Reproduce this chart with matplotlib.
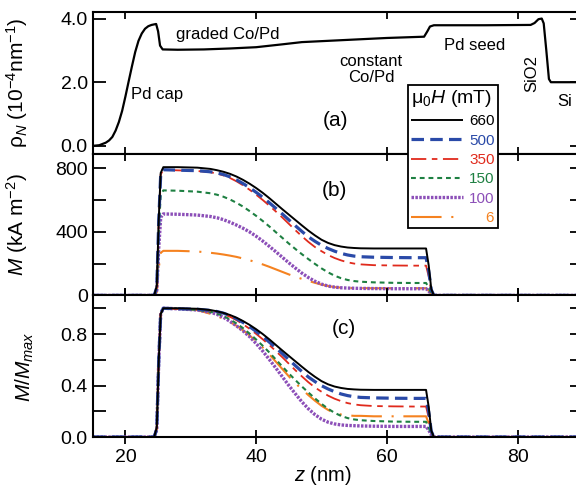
import numpy as np
import matplotlib.pyplot as plt
from matplotlib.lines import Line2D

plt.rcParams['font.family'] = ['Liberation Sans', 'DejaVu Sans']
plt.rcParams['mathtext.fontset'] = 'custom'
plt.rcParams['mathtext.rm'] = 'Liberation Sans'
plt.rcParams['mathtext.it'] = 'Liberation Sans:italic'
plt.rcParams['mathtext.bf'] = 'Liberation Sans:bold'
plt.rcParams['lines.scale_dashes'] = False

# (a) nuclear SLD profile
z_rho = [15, 16, 17, 17.5, 18, 18.5, 19, 19.5, 20, 20.5, 21, 21.5, 22, 22.5, 23, 23.5, 24, 24.7, 25.0, 25.3,
         25.7, 28, 32, 36, 40, 44, 47, 52, 56, 60, 65.7, 66.2, 66.6, 67.2, 75, 82.0, 82.6, 83.2, 83.7, 84.0,
         84.4, 84.8, 85.1, 90]
rho = [0.0, 0.02, 0.1, 0.17, 0.28, 0.48, 0.75, 1.1, 1.55, 2.03, 2.5, 2.95, 3.3, 3.53, 3.68, 3.76, 3.8, 3.83, 3.6, 3.15,
       3.03, 3.02, 3.03, 3.06, 3.1, 3.19, 3.26, 3.31, 3.35, 3.39, 3.43, 3.6, 3.75, 3.79, 3.79, 3.8, 3.86, 3.98, 4.0, 3.85,
       3.0, 2.1, 2.0, 2.0]

# (b) magnetization profiles, kA/m^2
z = [15, 24.4, 24.8, 25.1, 25.4, 25.8, 28, 31, 33, 34, 35, 36, 37, 38, 39, 40, 41, 42, 43, 44, 45, 46,
     47, 48, 49, 50, 51, 52, 53, 54, 55, 56, 58, 61, 64, 66.0, 66.4, 66.8, 67.2, 90]
fields = ['660', '500', '350', '150', '100', '\u2007\u20076']
m660 = [0, 0, 60, 480, 770, 806, 806, 803, 795, 787, 777, 764, 747, 726, 702, 675, 645, 612, 577, 542, 508, 474,
        440, 407, 377, 350, 330, 316, 307, 301, 298, 296, 295, 295, 295, 295, 190, 40, 0, 0]
m500 = [0, 0, 50, 470, 760, 790, 787, 784, 777, 770, 760, 745, 726, 703, 677, 648, 617, 583, 548, 512, 475, 438,
        402, 368, 340, 315, 295, 278, 264, 254, 247, 243, 240, 238, 237, 237, 155, 35, 0, 0]
m350 = [0, 0, 50, 470, 760, 790, 786, 782, 774, 766, 754, 738, 717, 692, 664, 633, 600, 565, 528, 490, 450, 410,
        372, 336, 304, 278, 254, 235, 220, 208, 200, 195, 190, 188, 187, 187, 120, 25, 0, 0]
m150 = [0, 0, 40, 400, 630, 660, 658, 652, 642, 633, 620, 603, 582, 558, 530, 500, 468, 434, 398, 362, 326, 292,
        259, 228, 198, 170, 145, 124, 108, 97, 90, 86, 82, 79, 78, 78, 50, 12, 0, 0]
m100 = [0, 0, 30, 300, 490, 512, 510, 505, 496, 488, 476, 460, 442, 422, 399, 372, 342, 309, 275, 240, 205, 172,
        140, 112, 89, 71, 59, 52, 48, 46, 45, 44, 43, 42, 42, 42, 28, 8, 0, 0]
m6 = [0, 0, 20, 170, 268, 280, 280, 276, 268, 263, 257, 250, 242, 232, 221, 208, 195, 180, 164, 148, 132, 117,
      104, 91, 79, 68, 59, 52, 49, 47, 46, 46, 45, 45, 45, 45, 30, 7, 0, 0]
profiles = [m660, m500, m350, m150, m100, m6]

styles = [
    dict(color='black', lw=1.4, ls='-'),
    dict(color='#2a4aa8', lw=2.3, dashes=(9, 4.5)),
    dict(color='#e02a1c', lw=1.3, dashes=(11, 4, 4, 4)),
    dict(color='#1e8042', lw=1.5, dashes=(3.5, 2.8)),
    dict(color='#8c4fb8', lw=2.4, dashes=(1.8, 1.0)),
    dict(color='#f58220', lw=1.5, dashes=(22, 7, 1.5, 7)),
]

fig, axes = plt.subplots(3, 1, figsize=(5.76, 4.88), dpi=100, sharex=True)
fig.subplots_adjust(left=0.161, right=1.012, top=0.975, bottom=0.1045, hspace=0)
ax_a, ax_b, ax_c = axes

ax_a.plot(z_rho, rho, color='black', lw=1.6)

z_arr = np.array(z)
for prof, st in list(zip(profiles, styles))[::-1]:
    m = np.array(prof, dtype=float)
    ax_b.plot(z_arr, m, solid_capstyle='butt', dash_capstyle='butt', **st)
    ax_c.plot(z_arr, m / m.max(), solid_capstyle='butt', dash_capstyle='butt', **st)

ax_c.set_xlim(15, 90)
ax_a.set_ylim(-0.25, 4.2)
ax_b.set_ylim(0, 890)
ax_c.set_ylim(0, 1.1)

ax_a.set_yticks([0, 2, 4])
ax_a.set_yticklabels(['0.0', '2.0', '4.0'])
ax_b.set_yticks([0, 200, 400, 600, 800])
ax_b.set_yticklabels(['0', '', '400', '', '800'])
ax_c.set_yticks([0, 0.2, 0.4, 0.6, 0.8, 1.0])
ax_c.set_yticklabels(['0.0', '', '0.4', '', '0.8', ''])
ax_c.set_xticks([20, 40, 60, 80])

for ax in axes:
    for sp in ax.spines.values():
        sp.set_linewidth(1.5)
    ax.tick_params(axis='y', direction='in', length=9.5, width=1.3, left=True, right=True, labelsize=14)
    ax.tick_params(axis='x', direction='in', length=5, width=1.3, top=True, bottom=True, labelsize=14)
ax_c.tick_params(axis='x', direction='inout', length=10)

ax_a.set_ylabel(r'ρ$_N$ (10$^{-4}$nm$^{-1}$)', fontsize=15)
ax_b.set_ylabel(r'$M$ (kA m$^{-2}$)', fontsize=15)
ax_c.set_ylabel(r'$M/M_{max}$', fontsize=15)
ax_a.yaxis.set_label_coords(-0.128, 0.5)
ax_b.yaxis.set_label_coords(-0.128, 0.5)
ax_c.yaxis.set_label_coords(-0.116, 0.5)
ax_c.set_xlabel(r'$z$ (nm)', fontsize=14.5)
ax_c.xaxis.set_label_coords(0.47, -0.19)

# layer labels
ax_a.text(20.8, 1.61, 'Pd cap', fontsize=12, va='center')
ax_a.text(27.7, 3.5, 'graded Co/Pd', fontsize=12, va='center')
ax_a.text(57.6, 2.39, 'constant\nCo/Pd', fontsize=12, va='center', ha='center', linespacing=1.1)
ax_a.text(73.5, 3.15, 'Pd seed', fontsize=12, va='center', ha='center')
ax_a.text(82.25, 2.28, 'SiO2', fontsize=12, va='center', ha='center', rotation=90)
ax_a.text(86.1, 1.4, 'Si', fontsize=12, va='center')

ax_a.text(52.1, 0.8, '(a)', fontsize=15, ha='center', va='center')
ax_b.text(52.0, 661, '(b)', fontsize=15, ha='center', va='center')
ax_c.text(53.4, 0.84, '(c)', fontsize=15, ha='center', va='center')

handles = [Line2D([], [], solid_capstyle='butt', dash_capstyle='butt', **st) for st in styles]
leg = fig.legend(handles, fields, title=r'μ$_0$$H$ (mT)', loc='upper left',
                 bbox_to_anchor=(408 / 576, 1 - 85 / 488), fontsize=11, title_fontsize=14,
                 frameon=True, fancybox=False, framealpha=1, edgecolor='black',
                 handlelength=3.4, handletextpad=0.4, labelspacing=0.35, borderpad=0.2,
                 borderaxespad=0)
leg.get_frame().set_linewidth(1.3)
leg._legend_box.align = 'left'
for t, st in zip(leg.get_texts(), styles):
    t.set_color(st['color'])

fig.savefig('out.png', dpi=100)
